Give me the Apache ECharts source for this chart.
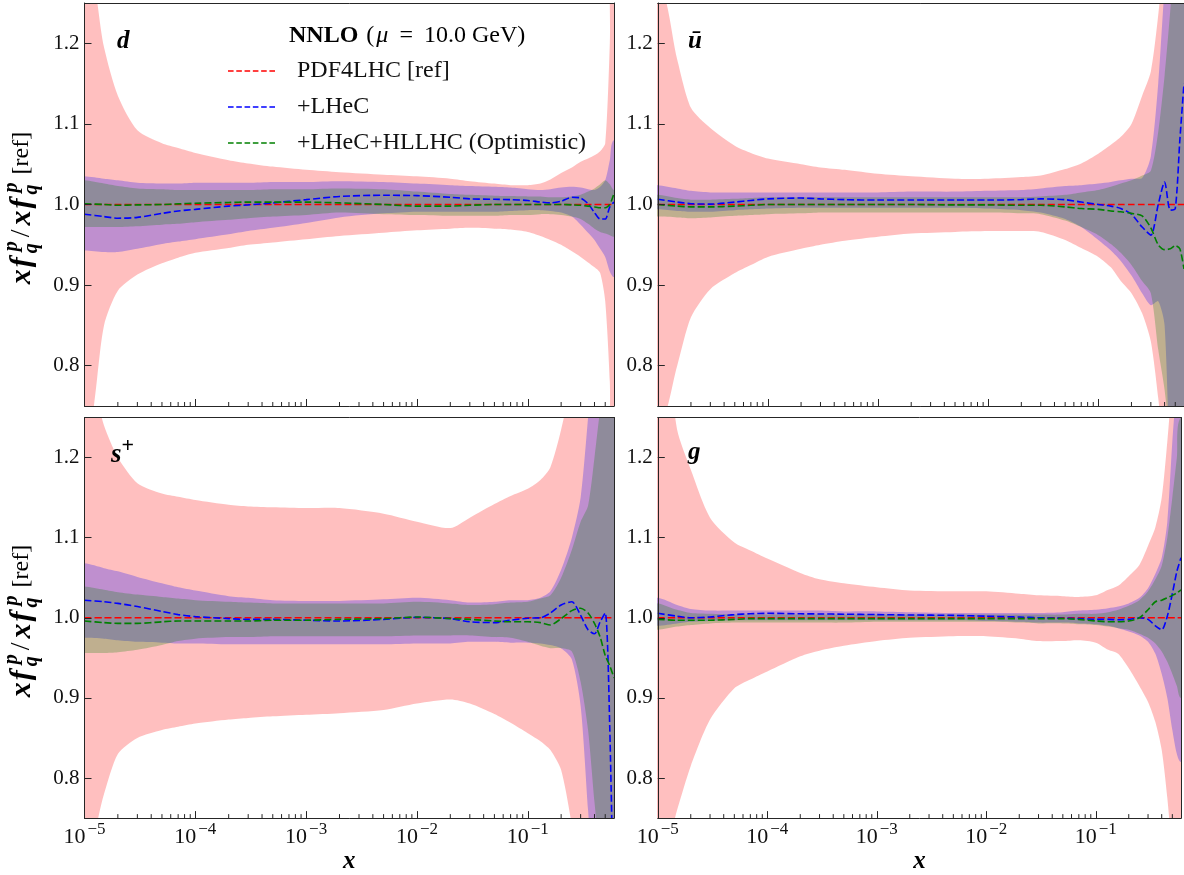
<!DOCTYPE html>
<html>
<head>
<meta charset="utf-8">
<script src="https://cdn.jsdelivr.net/npm/echarts@6.0.0/dist/echarts.min.js"></script>
<style>html,body{margin:0;padding:0;background:#fff;}#chart{width:1184px;height:875px;}</style>
</head>
<body>
<div id="chart"></div>
<script>
// ================= DATA =================
const X = [1e-5,1.5e-5,2e-5,3e-5,5e-5,7e-5,1e-4,2e-4,3e-4,5e-4,1e-3,2e-3,5e-3,1e-2,2e-2,3e-2,5e-2,7e-2,0.1,0.13,0.16,0.2,0.25,0.3,0.35,0.4,0.45,0.5,0.55,0.6];
const REF = [1,1,1,1,1,1,1,1,1,1,1,1,1,1,1,1,1,1,1,1,1,1,1,1,1,1,1,1,1,1];

// panel d
const d_refHi   = [1.32,1.195,1.135,1.092,1.076,1.07,1.064,1.055,1.051,1.047,1.043,1.040,1.037,1.035,1.032,1.029,1.026,1.024,1.024,1.026,1.031,1.039,1.046,1.053,1.057,1.061,1.066,1.076,1.2,1.4];
const d_refLo   = [0.70,0.85,0.893,0.913,0.927,0.934,0.94,0.946,0.95,0.953,0.957,0.961,0.965,0.968,0.97,0.971,0.97,0.969,0.966,0.961,0.956,0.95,0.942,0.935,0.928,0.922,0.915,0.88,0.78,0.6];
const d_lhecHi  = [1.035,1.032,1.030,1.027,1.026,1.026,1.027,1.027,1.027,1.028,1.028,1.029,1.028,1.026,1.024,1.023,1.022,1.021,1.019,1.018,1.019,1.021,1.022,1.021,1.019,1.018,1.022,1.03,1.055,1.08];
const d_lhecLo  = [0.943,0.941,0.941,0.945,0.951,0.954,0.957,0.963,0.967,0.971,0.977,0.984,0.989,0.991,0.991,0.991,0.991,0.992,0.993,0.993,0.992,0.99,0.985,0.975,0.965,0.956,0.945,0.935,0.917,0.91];
const d_hllhcHi = [1.030,1.026,1.023,1.020,1.019,1.018,1.018,1.018,1.018,1.019,1.019,1.020,1.019,1.016,1.013,1.012,1.011,1.0105,1.010,1.010,1.009,1.009,1.010,1.012,1.016,1.02,1.025,1.03,1.025,1.018];
const d_hllhcLo = [0.972,0.972,0.972,0.973,0.975,0.976,0.978,0.981,0.983,0.985,0.987,0.990,0.988,0.987,0.986,0.986,0.986,0.987,0.987,0.988,0.988,0.987,0.985,0.982,0.976,0.97,0.966,0.964,0.962,0.96];
const d_lhecC   = [0.988,0.985,0.983,0.984,0.989,0.992,0.994,0.998,0.9995,1.002,1.006,1.010,1.0115,1.011,1.009,1.007,1.0065,1.006,1.005,1.003,1.002,1.004,1.009,1.008,1.001,0.99,0.982,0.982,0.997,1.003];
const d_hllhcC  = [1.001,1.0,0.999,0.9995,1.0,1.0008,1.0015,1.0025,1.003,1.003,1.003,1.002,1.0,0.998,0.998,0.999,1.0,1.0,1.0,1.0,1.0,1.0,0.9995,0.999,0.998,0.997,0.996,0.996,1.0,1.014];

// panel u-bar
const u_refHi   = [1.28,1.18,1.12,1.095,1.073,1.064,1.057,1.05,1.046,1.043,1.038,1.035,1.032,1.032,1.034,1.036,1.044,1.051,1.063,1.074,1.084,1.10,1.135,1.165,1.235,1.32,1.4,1.45,1.5,1.5];
const u_refLo   = [0.72,0.80,0.86,0.895,0.915,0.925,0.935,0.945,0.95,0.955,0.96,0.964,0.966,0.967,0.967,0.966,0.956,0.946,0.935,0.922,0.905,0.89,0.865,0.83,0.76,0.68,0.6,0.55,0.5,0.5];
const u_lhecHi  = [1.024,1.02,1.017,1.015,1.015,1.015,1.015,1.015,1.015,1.015,1.015,1.016,1.016,1.017,1.018,1.02,1.023,1.024,1.026,1.028,1.030,1.032,1.033,1.06,1.15,1.27,1.35,1.45,1.5,1.5];
const u_lhecLo  = [0.994,0.992,0.991,0.991,0.993,0.994,0.995,0.996,0.996,0.996,0.996,0.996,0.996,0.995,0.993,0.99,0.982,0.972,0.956,0.943,0.93,0.912,0.89,0.875,0.88,0.85,0.65,0.5,0.5,0.5];
const u_hllhcHi = [1.012,1.008,1.006,1.006,1.007,1.008,1.009,1.009,1.009,1.009,1.009,1.009,1.009,1.009,1.009,1.01,1.012,1.015,1.018,1.022,1.026,1.03,1.036,1.042,1.09,1.16,1.24,1.32,1.4,1.45];
const u_hllhcLo = [0.985,0.984,0.983,0.984,0.986,0.987,0.988,0.989,0.99,0.99,0.99,0.99,0.99,0.99,0.989,0.988,0.98,0.972,0.962,0.951,0.94,0.925,0.905,0.89,0.82,0.77,0.70,0.6,0.55,0.5];
const u_lhecC   = [1.0066,1.003,1.001,1.0005,1.003,1.005,1.007,1.008,1.007,1.006,1.0055,1.0055,1.0055,1.0055,1.006,1.007,1.006,1.003,1.0,0.998,0.995,0.988,0.972,0.962,1.0,1.028,0.993,0.995,1.08,1.15];
const u_hllhcC  = [1.0,0.998,0.997,0.997,0.998,0.999,1.0,1.0,1.0,1.0,1.0,1.0,0.9995,0.9995,0.999,0.999,0.997,0.995,0.994,0.992,0.991,0.989,0.986,0.971,0.95,0.944,0.945,0.949,0.945,0.92];

// panel s+
const s_refHi   = [1.32,1.24,1.20,1.168,1.155,1.151,1.147,1.141,1.139,1.138,1.137,1.137,1.13,1.12,1.112,1.125,1.142,1.152,1.161,1.172,1.188,1.235,1.3,1.4,1.5,1.5,1.5,1.5,1.5,1.5];
const s_refLo   = [0.70,0.78,0.83,0.85,0.86,0.864,0.868,0.873,0.875,0.877,0.879,0.881,0.885,0.893,0.898,0.893,0.88,0.869,0.856,0.846,0.835,0.81,0.74,0.65,0.6,0.6,0.6,0.6,0.6,0.6];
const s_lhecHi  = [1.068,1.062,1.058,1.051,1.043,1.038,1.034,1.027,1.025,1.022,1.021,1.021,1.023,1.025,1.022,1.019,1.02,1.022,1.022,1.025,1.033,1.06,1.10,1.15,1.25,1.35,1.4,1.45,1.5,1.5];
const s_lhecLo  = [0.975,0.974,0.972,0.97,0.969,0.968,0.968,0.967,0.967,0.967,0.967,0.967,0.967,0.968,0.968,0.97,0.97,0.969,0.969,0.968,0.966,0.962,0.948,0.89,0.76,0.65,0.6,0.6,0.6,0.6];
const s_hllhcHi = [1.039,1.035,1.032,1.029,1.026,1.024,1.022,1.02,1.019,1.018,1.018,1.018,1.018,1.02,1.018,1.016,1.017,1.019,1.02,1.024,1.028,1.05,1.085,1.12,1.14,1.2,1.26,1.3,1.35,1.4];
const s_hllhcLo = [0.956,0.956,0.957,0.96,0.966,0.971,0.974,0.976,0.976,0.977,0.977,0.977,0.977,0.978,0.978,0.978,0.976,0.975,0.97,0.965,0.962,0.962,0.958,0.92,0.86,0.77,0.7,0.65,0.6,0.6];
const s_lhecC   = [1.022,1.02,1.018,1.014,1.008,1.004,1.0015,0.999,0.998,0.998,0.997,0.996,0.998,1.0005,0.999,0.995,0.994,0.997,0.9995,1.0,1.006,1.016,1.02,1.003,0.985,0.98,0.995,1.006,0.86,0.6];
const s_hllhcC  = [0.996,0.994,0.993,0.993,0.995,0.996,0.996,0.996,0.996,0.997,0.997,0.998,0.999,1.001,0.999,0.998,0.996,0.995,0.995,0.994,0.991,0.999,1.009,1.012,1.006,0.993,0.976,0.953,0.94,0.925];

// panel g
const g_refHi   = [1.40,1.235,1.185,1.125,1.094,1.084,1.074,1.056,1.048,1.043,1.038,1.034,1.033,1.033,1.03,1.028,1.027,1.026,1.028,1.035,1.04,1.052,1.066,1.09,1.113,1.15,1.22,1.3,1.38,1.45];
const g_refLo   = [0.68,0.76,0.815,0.873,0.912,0.923,0.933,0.952,0.959,0.965,0.971,0.975,0.977,0.977,0.974,0.971,0.971,0.972,0.969,0.96,0.955,0.937,0.915,0.895,0.87,0.835,0.775,0.70,0.6,0.5];
const g_lhecHi  = [1.025,1.016,1.011,1.009,1.009,1.009,1.009,1.009,1.009,1.008,1.008,1.007,1.006,1.006,1.006,1.006,1.007,1.009,1.01,1.012,1.014,1.018,1.025,1.037,1.055,1.075,1.12,1.22,1.3,1.4];
const g_lhecLo  = [0.99,0.993,0.995,0.996,0.997,0.997,0.997,0.997,0.997,0.997,0.997,0.997,0.997,0.996,0.995,0.994,0.994,0.993,0.992,0.99,0.987,0.983,0.978,0.97,0.955,0.93,0.9,0.86,0.83,0.82];
const g_hllhcHi = [1.018,1.01,1.006,1.005,1.004,1.004,1.004,1.004,1.004,1.004,1.004,1.004,1.004,1.004,1.004,1.004,1.004,1.005,1.005,1.007,1.01,1.015,1.022,1.033,1.048,1.065,1.1,1.15,1.2,1.25];
const g_hllhcLo = [0.985,0.989,0.991,0.993,0.994,0.994,0.994,0.994,0.994,0.994,0.995,0.995,0.995,0.995,0.994,0.993,0.993,0.992,0.991,0.989,0.987,0.985,0.98,0.975,0.968,0.958,0.945,0.93,0.915,0.9];
const g_lhecC   = [1.0056,1.002,1.0,1.001,1.004,1.005,1.0056,1.005,1.0048,1.0045,1.004,1.0035,1.003,1.002,1.001,1.0,0.9995,0.999,0.998,0.998,0.9975,0.998,1.0,0.998,0.99,0.985,1.002,1.03,1.058,1.075];
const g_hllhcC  = [0.998,0.997,0.997,0.997,0.998,0.999,0.999,0.999,0.999,0.999,0.999,0.999,0.999,0.999,0.999,0.999,0.999,0.998,0.996,0.995,0.995,0.996,1.0,1.01,1.02,1.022,1.025,1.028,1.031,1.035];

const SERIES_NAMES = ['PDF4LHC [ref]', '+LHeC', '+LHeC+HLLHC (Optimistic)'];
const X_MINOR_TICKS = [2e-5,3e-5,4e-5,5e-5,6e-5,7e-5,8e-5,9e-5,
  2e-4,3e-4,4e-4,5e-4,6e-4,7e-4,8e-4,9e-4,
  2e-3,3e-3,4e-3,5e-3,6e-3,7e-3,8e-3,9e-3,
  2e-2,3e-2,4e-2,5e-2,6e-2,7e-2,8e-2,9e-2,
  0.2,0.3,0.4,0.5];

const PANELS = [
  {refLo:d_refLo, refHi:d_refHi, lhecLo:d_lhecLo, lhecHi:d_lhecHi, hlLo:d_hllhcLo, hlHi:d_hllhcHi, lhecC:d_lhecC, hlC:d_hllhcC},
  {refLo:u_refLo, refHi:u_refHi, lhecLo:u_lhecLo, lhecHi:u_lhecHi, hlLo:u_hllhcLo, hlHi:u_hllhcHi, lhecC:u_lhecC, hlC:u_hllhcC},
  {refLo:s_refLo, refHi:s_refHi, lhecLo:s_lhecLo, lhecHi:s_lhecHi, hlLo:s_hllhcLo, hlHi:s_hllhcHi, lhecC:s_lhecC, hlC:s_hllhcC},
  {refLo:g_refLo, refHi:g_refHi, lhecLo:g_lhecLo, lhecHi:g_lhecHi, hlLo:g_hllhcLo, hlHi:g_hllhcHi, lhecC:g_lhecC, hlC:g_hllhcC}
];

// ================= LAYOUT / STYLE =================
const F = "'Liberation Serif','DejaVu Serif',serif";
const XMIN = 1e-5, XMAX = 0.6, YMIN = 0.75, YMAX = 1.25;
const SPINE = '#262626';
const TXT = '#111';
const GRIDS = [
  {left: 84.5, top: 3, width: 529.5, height: 403},
  {left: 657.8, top: 3, width: 529.5, height: 403},
  {left: 84.5, top: 417.5, width: 529.5, height: 403.5},
  {left: 657.8, top: 417.5, width: 529.5, height: 403.5}
];
const BAND_COLORS = ['rgba(255,0,0,0.25)', 'rgba(0,0,255,0.25)', 'rgba(0,128,0,0.25)'];
const LINE_COLORS = ['#ff0000', '#0000ff', '#008000'];
const DASH = [7, 3];
const DASH_ICON = 'path://M0,0h5.6v1.7h-5.6zM8.3,0h5.6v1.7h-5.6zM16.6,0h5.6v1.7h-5.6zM24.9,0h5.6v1.7h-5.6zM33.2,0h5.6v1.7h-5.6zM41.5,0h5.6v1.7h-5.6z';

function xLabel(v) {
  const e = Math.round(Math.log10(v));
  if (Math.abs(v / Math.pow(10, e) - 1) > 1e-6) return '';
  return '{b|10}{s|\u2212' + (-e) + '}';
}
function yLabel(v) {
  const t = Math.round(v * 10);
  if (Math.abs(v * 10 - t) > 1e-6) return '';
  return (t / 10).toFixed(1);
}

function bandSeries(i, lo, hi, color, z) {
  return {
    type: 'custom', xAxisIndex: 2 * i, yAxisIndex: 2 * i, clip: true, silent: true, z: z,
    data: X.map((x, j) => [x, lo[j], hi[j]]),
    encode: {x: 0, y: [1, 2]},
    renderItem: function (params, api) {
      if (params.dataIndex !== 0) return null;
      const n = X.length, pts = [];
      const hl = api.coord([X[0], hi[0]]), ll = api.coord([X[0], lo[0]]);
      const hr = api.coord([X[n - 1], hi[n - 1]]), lr = api.coord([X[n - 1], lo[n - 1]]);
      pts.push([hl[0] - 40, hl[1]]);
      for (let j = 0; j < n; j++) pts.push(api.coord([X[j], hi[j]]));
      pts.push([hr[0] + 40, hr[1]]);
      pts.push([lr[0] + 40, lr[1]]);
      for (let j = n - 1; j >= 0; j--) pts.push(api.coord([X[j], lo[j]]));
      pts.push([ll[0] - 40, ll[1]]);
      return {type: 'polygon', shape: {points: pts, smooth: 0.25}, style: {fill: color, stroke: null}};
    }
  };
}
function lineSeries(i, k, ys, z) {
  return {
    type: 'line', name: SERIES_NAMES[k], xAxisIndex: 2 * i, yAxisIndex: 2 * i,
    data: X.map((x, j) => [x, ys[j]]), symbol: 'none', showSymbol: false, smooth: 0.25,
    clip: true, z: z, color: LINE_COLORS[k], silent: true,
    lineStyle: {color: LINE_COLORS[k], width: 1.6, type: DASH}
  };
}
function minorTickSeries(i) {
  return {
    type: 'custom', xAxisIndex: 2 * i, yAxisIndex: 2 * i, clip: false, silent: true, z: 12,
    data: X_MINOR_TICKS.map(v => [v, YMIN]),
    encode: {x: 0, y: 1},
    renderItem: function (params, api) {
      const p = api.coord([api.value(0), api.value(1)]);
      return {type: 'line', shape: {x1: p[0], y1: p[1], x2: p[0], y2: p[1] - 4},
        style: {stroke: SPINE, lineWidth: 1}};
    }
  };
}

const grid = [], xAxis = [], yAxis = [], series = [];
PANELS.forEach((p, i) => {
  grid.push(Object.assign({containLabel: false}, GRIDS[i]));
  const bottom = i >= 2;
  xAxis.push({
    type: 'log', logBase: 10, gridIndex: i, min: XMIN, max: XMAX, position: 'bottom', z: 10,
    axisLine: {show: true, onZero: false, lineStyle: {color: SPINE, width: 1}},
    axisTick: {show: true, inside: true, length: 7, lineStyle: {color: SPINE, width: 1}},
    minorTick: {show: false}, splitLine: {show: false}, minorSplitLine: {show: false},
    axisLabel: {show: bottom, margin: 3, formatter: xLabel, hideOverlap: false,
      rich: {
        b: {fontFamily: F, fontSize: 22, color: TXT, padding: [5, 0, 0, 0]},
        s: {fontFamily: F, fontSize: 17, color: TXT, verticalAlign: 'top', padding: [0, 0, 0, 2]}
      }},
    name: bottom ? 'x' : '', nameLocation: 'middle', nameGap: 21,
    nameTextStyle: {fontFamily: F, fontSize: 25, fontStyle: 'italic', fontWeight: 'bold', color: '#000'}
  });
  xAxis.push({
    type: 'log', logBase: 10, gridIndex: i, min: XMIN, max: XMAX, position: 'top', z: 10,
    axisLine: {show: true, onZero: false, lineStyle: {color: SPINE, width: 1}},
    axisTick: {show: false}, axisLabel: {show: false}, splitLine: {show: false}
  });
  yAxis.push({
    type: 'value', gridIndex: i, min: YMIN, max: YMAX, position: 'left', z: 10,
    axisLine: {show: true, onZero: false, lineStyle: {color: SPINE, width: 1}},
    axisTick: {show: true, inside: true, length: 7, lineStyle: {color: SPINE, width: 1}},
    axisLabel: {show: true, margin: 5, formatter: yLabel, fontFamily: F, fontSize: 21, color: TXT},
    splitLine: {show: false}
  });
  yAxis.push({
    type: 'value', gridIndex: i, min: YMIN, max: YMAX, position: 'right', z: 10,
    axisLine: {show: true, onZero: false, lineStyle: {color: SPINE, width: 1}},
    axisTick: {show: false}, axisLabel: {show: false}, splitLine: {show: false}
  });
  series.push(bandSeries(i, p.refLo, p.refHi, BAND_COLORS[0], 1));
  series.push(bandSeries(i, p.lhecLo, p.lhecHi, BAND_COLORS[1], 2));
  series.push(bandSeries(i, p.hlLo, p.hlHi, BAND_COLORS[2], 3));
  series.push(lineSeries(i, 0, REF, 4));
  series.push(lineSeries(i, 1, p.lhecC, 5));
  series.push(lineSeries(i, 2, p.hlC, 6));
  series.push(minorTickSeries(i));
});

// ---- y axis title (rotated, with stacked sub/superscripts) ----
function yTitle(cx, cy) {
  const ctx = document.createElement('canvas').getContext('2d');
  const parts = [
    {t: 'x', size: 30, it: true, bd: true, gap: 2},
    {t: 'f', size: 30, it: true, bd: true, gap: 4},
    {sup: 'p', sub: 'q', size: 20, gap: 4},
    {t: '/', size: 28, it: false, bd: false, gap: 4},
    {t: 'x', size: 30, it: true, bd: true, gap: 2},
    {t: 'f', size: 30, it: true, bd: true, gap: 4},
    {sup: 'p', sub: 'q', size: 20, gap: 8},
    {t: '[ref]', size: 24, it: false, bd: false, gap: 0}
  ];
  const font = (size, it, bd) => (it ? 'italic ' : '') + (bd ? 'bold ' : '') + size + 'px ' + F;
  let total = 0;
  parts.forEach(pt => {
    if (pt.t) {
      ctx.font = font(pt.size, pt.it, pt.bd);
      pt.w = ctx.measureText(pt.t).width + pt.gap;
    } else {
      ctx.font = font(pt.size, true, true);
      pt.w = Math.max(ctx.measureText(pt.sup).width + 2, ctx.measureText(pt.sub).width) + pt.gap;
    }
    total += pt.w;
  });
  const children = [];
  let pos = -total / 2;
  parts.forEach(pt => {
    if (pt.t) {
      children.push({type: 'text', x: pos, y: 0, style: {
        text: pt.t, fontFamily: F, fontSize: pt.size, fontStyle: pt.it ? 'italic' : 'normal',
        fontWeight: pt.bd ? 'bold' : 'normal', fill: '#000', align: 'left', verticalAlign: 'middle'}});
    } else {
      children.push({type: 'text', x: pos + 2, y: -10, style: {
        text: pt.sup, fontFamily: F, fontSize: pt.size, fontStyle: 'italic', fontWeight: 'bold',
        fill: '#000', align: 'left', verticalAlign: 'middle'}});
      children.push({type: 'text', x: pos, y: 10, style: {
        text: pt.sub, fontFamily: F, fontSize: pt.size, fontStyle: 'italic', fontWeight: 'bold',
        fill: '#000', align: 'left', verticalAlign: 'middle'}});
    }
    pos += pt.w;
  });
  return {type: 'group', x: cx, y: cy, rotation: Math.PI / 2, children: children, z: 20};
}

const LBL = {fontFamily: F, fontSize: 25, fontStyle: 'italic', fontWeight: 'bold', fill: '#000'};
const graphic = [
  {type: 'text', left: 117, top: 29, z: 20, style: Object.assign({text: 'd'}, LBL)},
  {type: 'text', left: 688, top: 29, z: 20, style: Object.assign({text: '\u016B'}, LBL)},
  {type: 'text', left: 111, top: 435, z: 20, style: {
    text: '{m|s}{p|+}', fill: '#000',
    rich: {m: {fontFamily: F, fontSize: 27, fontStyle: 'italic', fontWeight: 'bold', fill: '#000', padding: [7, 0, 0, 0]},
           p: {fontFamily: F, fontSize: 22, fontWeight: 'bold', fill: '#000', verticalAlign: 'top'}}}},
  {type: 'text', left: 688, top: 440, z: 20, style: Object.assign({text: 'g'}, LBL)},
  {type: 'text', left: 289, top: 24, z: 20, style: {
    text: '{b|NNLO}{r| (}{i|\u03BC}{e|=}{r|10.0 GeV)}', fill: '#000',
    rich: {b: {fontFamily: F, fontSize: 24, fontWeight: 'bold', fill: '#000', padding: [0, 2, 0, 0]},
           r: {fontFamily: F, fontSize: 24, fill: '#000'},
           i: {fontFamily: F, fontSize: 24, fontStyle: 'italic', fill: '#000', padding: [0, 0, 0, 2]},
           e: {fontFamily: F, fontSize: 24, fill: '#000', padding: [0, 11, 0, 11]}}}},
  yTitle(22, 208),
  yTitle(22, 621)
];

const option = {
  animation: false,
  backgroundColor: '#ffffff',
  grid: grid, xAxis: xAxis, yAxis: yAxis, series: series, graphic: graphic,
  legend: {
    data: SERIES_NAMES, orient: 'vertical', left: 228, top: 59, padding: 0, itemWidth: 47, itemHeight: 2,
    itemGap: 12, icon: DASH_ICON, selectedMode: false,
    textStyle: {fontFamily: F, fontSize: 24, color: TXT, lineHeight: 24, padding: [0, 0, 0, 17]}
  }
};

const chart = echarts.init(document.getElementById('chart'), null, {renderer: 'canvas', width: 1184, height: 875});
chart.setOption(option);
</script>
</body>
</html>
